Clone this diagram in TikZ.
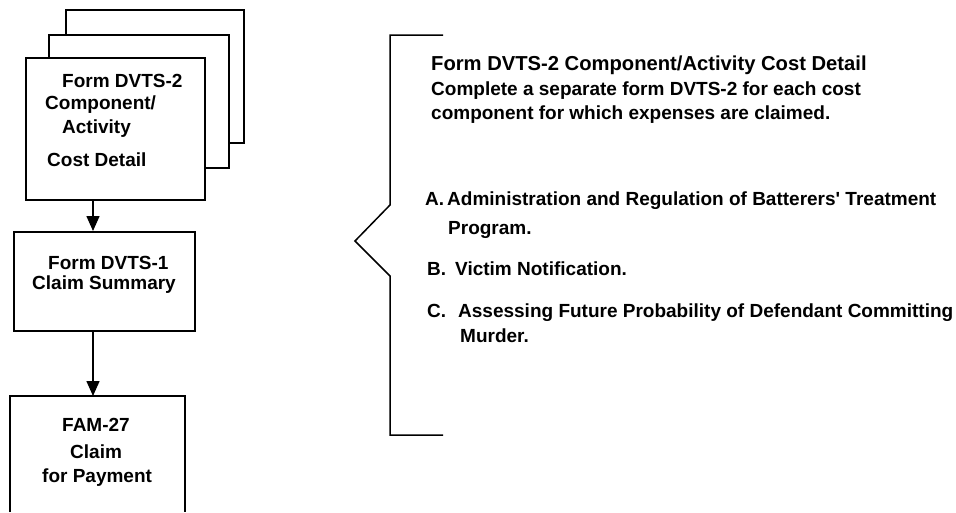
\documentclass[tikz,border=0pt]{standalone}
\usepackage{fontspec}
\setmainfont{Liberation Sans}
\usetikzlibrary{arrows.meta}
\begin{document}
\begin{tikzpicture}[x=1pt,y=-1pt,
  card/.style={draw, line width=1.5pt, fill=white, inner sep=0pt, anchor=north west},
  flow/.style={line width=1.5pt, -{Triangle[length=15pt,width=13pt]}},
  brace/.style={line width=1.5pt, line join=miter},
  boxtext/.style={font=\fontsize{19}{22}\selectfont\bfseries, anchor=base west, inner sep=0pt},
  body/.style={font=\fontsize{19}{22}\selectfont\bfseries, anchor=base west, inner sep=0pt},
  heading/.style={font=\fontsize{20.2}{24}\selectfont\bfseries, anchor=base west, inner sep=0pt}]
\useasboundingbox (0,0) rectangle (956,512);

% stacked DVTS-2 sheets
\node[card, minimum width=178pt, minimum height=133pt] (back) at (65,9) {};
\node[card, minimum width=180pt, minimum height=133pt] (middle) at (48,34) {};
\node[card, minimum width=179pt, minimum height=142pt] (front) at (25,57) {};
\node[boxtext] (f1) at (62,87) {Form DVTS-2};
\node[boxtext] (f2) at (45,109) {Component/};
\node[boxtext] (f3) at (62,133) {Activity};
\node[boxtext] (f4) at (47,166) {Cost Detail};

% claim summary
\node[card, minimum width=181pt, minimum height=99pt] (summary) at (13,231) {};
\node[boxtext] (s1) at (48,269) {Form DVTS-1};
\node[boxtext] (s2) at (32,289) {Claim Summary};

% claim for payment (runs off the lower edge)
\coordinate (payNW) at (10,396);
\coordinate (payNE) at (185,396);
\draw[line width=1.5pt] (10,512) -- (payNW) -- (payNE) -- (185,512);
\node[boxtext] (p1) at (62,431) {FAM-27};
\node[boxtext] (p2) at (70,458) {Claim};
\node[boxtext] (p3) at (42,482) {for Payment};

% connectors
\coordinate (axis) at (93,0);
\draw[flow] (axis |- front.south) -- (axis |- summary.north);
\draw[flow] (axis |- summary.south) -- (axis |- payNW);

% brace
\coordinate (bt) at (443,35);
\coordinate (bb) at (443,435);
\draw[brace] (bt) -- (390,35) -- (390,205) -- (355,241) -- (390,276) -- (390,435) -- (bb);

% description
\node[heading] (t0) at (431,70) {Form DVTS-2 Component/Activity Cost Detail};
\node[body] (t1) at (431,95) {Complete a separate form DVTS-2 for each cost};
\node[body] (t2) at (431,119) {component for which expenses are claimed.};
\node[body] (a0) at (425,205) {A.};
\node[body] (a1) at (447,205) {Administration and Regulation of Batterers\textquotesingle{} Treatment};
\node[body] (a2) at (448,234) {Program.};
\node[body] (b0) at (427,275) {B.};
\node[body] (b1) at (455,275) {Victim Notification.};
\node[body] (c0) at (427,317) {C.};
\node[body] (c1) at (458,317) {Assessing Future Probability of Defendant Committing};
\node[body] (c2) at (460,342) {Murder.};
\end{tikzpicture}
\end{document}
